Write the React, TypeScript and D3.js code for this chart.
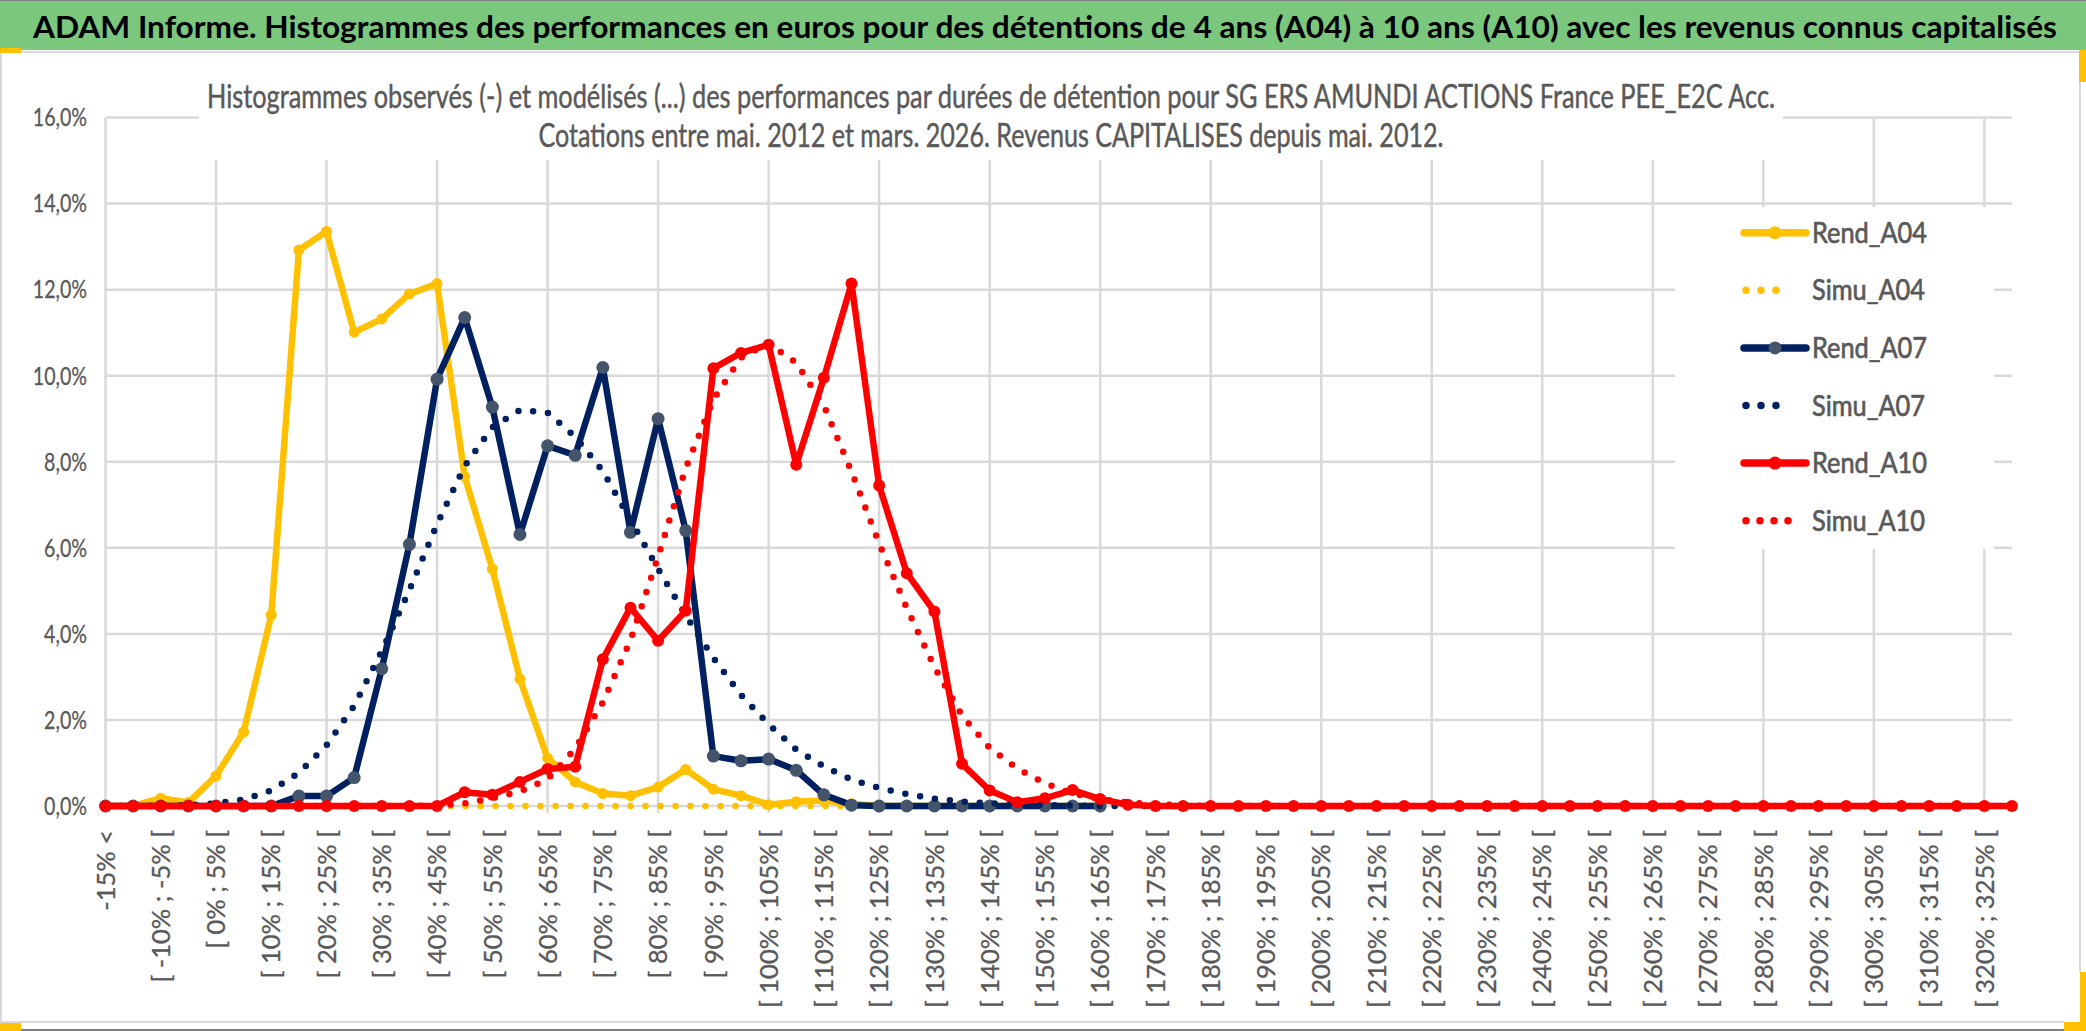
import React from "react";
import * as d3 from "d3";

// ---------- DATA ----------
const categories: string[] = [
  "-15% <", "[ -15% ; -10% [", "[ -10% ; -5% [", "[ -5% ; 0% [", "[ 0% ; 5% [",
  "[ 5% ; 10% [", "[ 10% ; 15% [", "[ 15% ; 20% [", "[ 20% ; 25% [", "[ 25% ; 30% [",
  "[ 30% ; 35% [", "[ 35% ; 40% [", "[ 40% ; 45% [", "[ 45% ; 50% [", "[ 50% ; 55% [",
  "[ 55% ; 60% [", "[ 60% ; 65% [", "[ 65% ; 70% [", "[ 70% ; 75% [", "[ 75% ; 80% [",
  "[ 80% ; 85% [", "[ 85% ; 90% [", "[ 90% ; 95% [", "[ 95% ; 100% [", "[ 100% ; 105% [",
  "[ 105% ; 110% [", "[ 110% ; 115% [", "[ 115% ; 120% [", "[ 120% ; 125% [", "[ 125% ; 130% [",
  "[ 130% ; 135% [", "[ 135% ; 140% [", "[ 140% ; 145% [", "[ 145% ; 150% [", "[ 150% ; 155% [",
  "[ 155% ; 160% [", "[ 160% ; 165% [", "[ 165% ; 170% [", "[ 170% ; 175% [", "[ 175% ; 180% [",
  "[ 180% ; 185% [", "[ 185% ; 190% [", "[ 190% ; 195% [", "[ 195% ; 200% [", "[ 200% ; 205% [",
  "[ 205% ; 210% [", "[ 210% ; 215% [", "[ 215% ; 220% [", "[ 220% ; 225% [", "[ 225% ; 230% [",
  "[ 230% ; 235% [", "[ 235% ; 240% [", "[ 240% ; 245% [", "[ 245% ; 250% [", "[ 250% ; 255% [",
  "[ 255% ; 260% [", "[ 260% ; 265% [", "[ 265% ; 270% [", "[ 270% ; 275% [", "[ 275% ; 280% [",
  "[ 280% ; 285% [", "[ 285% ; 290% [", "[ 290% ; 295% [", "[ 295% ; 300% [", "[ 300% ; 305% [",
  "[ 305% ; 310% [", "[ 310% ; 315% [", "[ 315% ; 320% [", "[ 320% ; 325% [", "[ 325% ; 330% ["
];

const rendA04: number[] = [
  0, 0, 0.18, 0.08, 0.70, 1.72, 4.44, 12.92, 13.35, 11.01,
  11.32, 11.90, 12.14, 7.66, 5.51, 2.95, 1.11, 0.56, 0.29, 0.24,
  0.44, 0.85, 0.39, 0.24, 0.03, 0.10, 0.13, 0.05, 0, 0,
  0, 0, 0, 0, 0, 0, 0
];

const simuA04: number[] = [
  0, 0, 0, 0, 0, 0, 0, 0, 0, 0,
  0, 0, 0, 0, 0, 0, 0, 0, 0, 0,
  0, 0, 0, 0, 0, 0, 0, 0, 0, 0,
  0, 0, 0, 0, 0, 0, 0
];

const rendA07: number[] = [
  0, 0, 0, 0, 0, 0, 0, 0.23, 0.23, 0.66,
  3.19, 6.08, 9.92, 11.35, 9.27, 6.31, 8.37, 8.15, 10.19, 6.36,
  9.00, 6.40, 1.16, 1.05, 1.09, 0.83, 0.26, 0.02, 0, 0,
  0, 0, 0, 0, 0, 0, 0
];

const simuA07: number[] = [
  0, 0, 0.01, 0.02, 0.06, 0.15, 0.36, 0.77, 1.41, 2.33,
  3.60, 5.02, 6.55, 7.90, 8.80, 9.20, 9.14, 8.58, 7.78, 6.65,
  5.51, 4.43, 3.44, 2.58, 1.90, 1.31, 0.92, 0.61, 0.42, 0.28,
  0.17, 0.10, 0.06, 0.04, 0.02, 0.01, 0, 0, 0, 0,
  0, 0, 0, 0, 0, 0, 0, 0, 0, 0,
  0, 0, 0, 0, 0, 0, 0, 0, 0, 0,
  0, 0, 0, 0, 0, 0, 0, 0, 0, 0
];

const rendA10: number[] = [
  0, 0, 0, 0, 0, 0, 0, 0, 0, 0,
  0, 0, 0, 0.32, 0.26, 0.56, 0.86, 0.91, 3.41, 4.61,
  3.84, 4.54, 10.17, 10.53, 10.72, 7.93, 9.95, 12.14, 7.45, 5.41,
  4.52, 0.98, 0.36, 0.09, 0.18, 0.37, 0.16, 0.03, 0, 0,
  0, 0, 0, 0, 0, 0, 0, 0, 0, 0,
  0, 0, 0, 0, 0, 0, 0, 0, 0, 0,
  0, 0, 0, 0, 0, 0, 0, 0, 0, 0
];

const simuA10: number[] = [
  0, 0, 0, 0, 0, 0, 0, 0, 0, 0,
  0, 0, 0.01, 0.06, 0.18, 0.34, 0.62, 1.33, 2.41, 3.85,
  5.80, 7.85, 9.45, 10.42, 10.75, 10.30, 9.30, 7.77, 6.10, 4.60,
  3.23, 2.10, 1.35, 0.87, 0.53, 0.29, 0.16, 0.08, 0.04, 0.02,
  0, 0, 0, 0, 0, 0, 0, 0, 0, 0,
  0, 0, 0, 0, 0, 0, 0, 0, 0, 0,
  0, 0, 0, 0, 0, 0, 0, 0, 0, 0
];

const seriesNames = ["Rend_A04", "Simu_A04", "Rend_A07", "Simu_A07", "Rend_A10", "Simu_A10"];

const yTicks: number[] = [0, 2, 4, 6, 8, 10, 12, 14, 16];
const yTickLabels: string[] = ["0,0%", "2,0%", "4,0%", "6,0%", "8,0%", "10,0%", "12,0%", "14,0%", "16,0%"];

const titleText =
  "ADAM Informe. Histogrammes des performances en euros pour des détentions de 4 ans (A04) à 10 ans (A10) avec les revenus connus capitalisés";
const subtitleLine1 =
  "Histogrammes observés (-) et modélisés (...) des performances par durées de détention pour SG ERS AMUNDI ACTIONS France PEE_E2C Acc.";
const subtitleLine2 =
  "Cotations entre mai. 2012 et mars. 2026. Revenus CAPITALISES depuis mai. 2012.";

// ---------- STYLES ----------
const W = 2086;
const H = 1031;
const FONT = "Lato, 'Open Sans', sans-serif";
const GRID = "#D9D9D9";
const TXT = "#595959";

type Style = { color: string; dotted: boolean; marker?: string; r?: number; legendEnd?: number; legendGap?: number };
const styles: Style[] = [
  { color: "#FFC000", dotted: false, marker: "#FFC000", r: 5.5 },
  { color: "#FFC000", dotted: true, legendEnd: 1791, legendGap: 15 },
  { color: "#002060", dotted: false, marker: "#44546A", r: 6.5 },
  { color: "#002060", dotted: true, legendEnd: 1791, legendGap: 15 },
  { color: "#FF0000", dotted: false, marker: "#FF0000", r: 6 },
  { color: "#FF0000", dotted: true, legendEnd: 1802, legendGap: 14 },
];
const seriesValues: number[][] = [rendA04, simuA04, rendA07, simuA07, rendA10, simuA10];

export default function App() {
  const x = d3.scaleLinear().domain([0, categories.length - 1]).range([105.5, 2012]);
  const y = d3.scaleLinear().domain([0, 16]).range([806, 117.5]);
  const line = d3
    .line<number>()
    .x((_, i) => x(i))
    .y((d) => y(d));

  const vGrid = d3.range(0, categories.length, 4);
  const legendRowY = (k: number) => 232.7 + k * 57.6;

  return (
    <svg
      width={W}
      height={H}
      viewBox={`0 0 ${W} ${H}`}
      style={{ position: "absolute", left: 0, top: 0, background: "#fff" }}
    >
      {/* Title bar */}
      <rect x={0} y={0} width={W} height={50} fill="#7BC77E" />
      <line x1={0} x2={W} y1={0.5} y2={0.5} stroke="#7F7F7F" strokeWidth={1} />
      <text
        x={33}
        y={38}
        fontFamily={FONT}
        fontWeight={700}
        fontSize={29.5}
        fill="#000"
        textLength={2024}
        lengthAdjust="spacingAndGlyphs"
      >
        {titleText}
      </text>

      {/* Chart area border */}
      <rect x={1} y={52} width={2079} height={970} fill="none" stroke={GRID} strokeWidth={2} />
      <line x1={0} x2={W} y1={1030} y2={1030} stroke="#7F7F7F" strokeWidth={2} />
      <rect x={0} y={48} width={21} height={5} fill="#FFC000" />
      <rect x={0} y={1023} width={21} height={8} fill="#FFC000" />
      <rect x={2079} y={50} width={7} height={32} fill="#FFC000" />
      <rect x={2064} y={972} width={22} height={59} fill="#FFC000" />
      <rect x={2064} y={972} width={16} height={50} fill="#fff" />

      {/* Gridlines */}
      {yTicks.map((t) => (
        <line key={"h" + t} x1={x(0)} x2={x(categories.length - 1)} y1={y(t)} y2={y(t)} stroke={GRID} strokeWidth={2.5} />
      ))}
      {vGrid.map((i) => (
        <line key={"v" + i} x1={x(i)} x2={x(i)} y1={y(16)} y2={y(0) + 7} stroke={GRID} strokeWidth={2.5} />
      ))}

      {/* Subtitle box */}
      <rect x={199} y={60} width={1584} height={100} fill="#fff" />
      <text
        transform="translate(991,107.5) scale(1,1.3)"
        textAnchor="middle"
        fontFamily={FONT}
        fontSize={24.5}
        fill={TXT}
        stroke={TXT}
        strokeWidth={0.35}
        textLength={1568}
        lengthAdjust="spacingAndGlyphs"
      >
        {subtitleLine1}
      </text>
      <text
        transform="translate(991,147) scale(1,1.3)"
        textAnchor="middle"
        fontFamily={FONT}
        fontSize={24.5}
        fill={TXT}
        stroke={TXT}
        strokeWidth={0.35}
        textLength={905}
        lengthAdjust="spacingAndGlyphs"
      >
        {subtitleLine2}
      </text>

      {/* Y axis labels */}
      {yTicks.map((t, k) => (
        <text
          key={"yl" + t}
          transform={`translate(87,${y(t)}) scale(0.8,1)`}
          dy="0.36em"
          textAnchor="end"
          fontFamily={FONT}
          fontSize={24.5}
          fill={TXT}
          stroke={TXT}
          strokeWidth={0.3}
        >
          {yTickLabels[k]}
        </text>
      ))}

      {/* X axis labels */}
      {categories.map((c, i) =>
        i % 2 === 0 ? (
          <text
            key={"xl" + i}
            transform={`translate(${x(i)},830) rotate(-90)`}
            dy="0.36em"
            textAnchor="end"
            fontFamily={FONT}
            fontSize={25.5}
            fill={TXT}
            stroke={TXT}
            strokeWidth={0.3}
          >
            {c}
          </text>
        ) : null
      )}

      {/* Series */}
      {seriesValues.map((vals, s) => {
        const st = styles[s];
        return (
          <g key={"s" + s}>
            <path
              d={line(vals) || ""}
              fill="none"
              stroke={st.color}
              strokeWidth={st.dotted ? 6.5 : 6.5}
              strokeLinejoin="round"
              strokeLinecap="round"
              strokeDasharray={st.dotted ? "0 15" : undefined}
            />
            {!st.dotted &&
              vals.map((v, i) => (
                <circle key={i} cx={x(i)} cy={y(v)} r={st.r} fill={st.marker} />
              ))}
          </g>
        );
      })}

      {/* Legend */}
      <rect x={1675} y={207} width={319} height={342} fill="#fff" />
      {seriesNames.map((n, k) => {
        const st = styles[k];
        const cy = legendRowY(k);
        return (
          <g key={"lg" + k}>
            {st.dotted ? (
              <line
                x1={1746}
                x2={st.legendEnd}
                y1={cy}
                y2={cy}
                stroke={st.color}
                strokeWidth={7.5}
                strokeLinecap="round"
                strokeDasharray={`0 ${st.legendGap}`}
              />
            ) : (
              <>
                <line x1={1744} x2={1806} y1={cy} y2={cy} stroke={st.color} strokeWidth={7.5} strokeLinecap="round" />
                <circle cx={1775} cy={cy} r={6.5} fill={st.marker} />
              </>
            )}
            <text
              transform={`translate(1812,${cy + 10}) scale(1,1.15)`}
              fontFamily={FONT}
              fontSize={25}
              fill={TXT}
              stroke={TXT}
              strokeWidth={0.6}
              textLength={n.startsWith("Rend") ? 115 : 113}
              lengthAdjust="spacingAndGlyphs"
            >
              {n}
            </text>
          </g>
        );
      })}
    </svg>
  );
}
